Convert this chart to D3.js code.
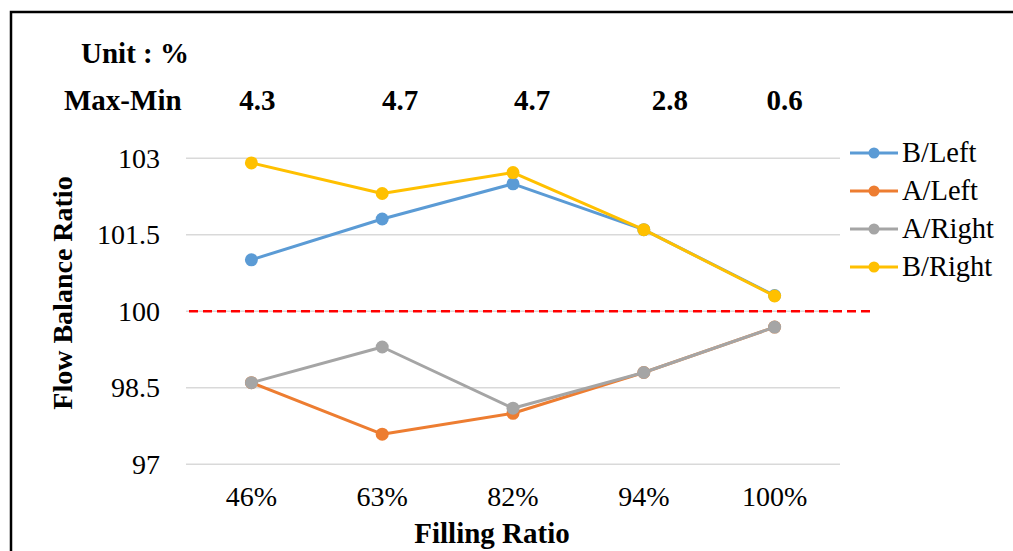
<!DOCTYPE html>
<html>
<head>
<meta charset="utf-8">
<script src="https://cdn.jsdelivr.net/npm/d3@7"></script>
<style>
  body { margin: 0; background: #fff; }
  svg text { font-family: "Liberation Serif", "Times New Roman", Times, "DejaVu Serif", serif; }
</style>
</head>
<body>
<svg width="1013" height="551"></svg>
<script>
// categories and values
var fillRatios = ["46%", "63%", "82%", "94%", "100%"];
var bLeft  = [101.01, 101.81, 102.50, 101.60, 100.31];
var aLeft  = [98.60, 97.59, 98.00, 98.80, 99.69];
var aRight = [98.60, 99.30, 98.10, 98.80, 99.69];
var bRight = [102.91, 102.31, 102.72, 101.60, 100.30];
var maxMin = ["4.3", "4.7", "4.7", "2.8", "0.6"];
var yTicks = [97, 98.5, 100, 101.5, 103];
var refLine = 100;

var series = [
  {name: "B/Left",  values: bLeft,  color: "#5B9BD5"},
  {name: "A/Left",  values: aLeft,  color: "#ED7D31"},
  {name: "A/Right", values: aRight, color: "#A5A5A5"},
  {name: "B/Right", values: bRight, color: "#FFC000"}
];

var svg = d3.select("svg");

// outer frame (right/bottom edges are cropped off in the original)
svg.append("rect")
  .attr("x", 11).attr("y", 12)
  .attr("width", 1040).attr("height", 600)
  .attr("fill", "#fff").attr("stroke", "#000").attr("stroke-width", 2.5);

var xScale = d3.scaleBand().domain(fillRatios).range([186, 840]);
var yScale = d3.scaleLinear().domain([97, 103]).range([464.3, 158.3]);
var cx = function(c) { return xScale(c) + xScale.bandwidth() / 2; };

// gridlines
svg.append("g").selectAll("line")
  .data(yTicks).enter().append("line")
  .attr("x1", 186).attr("x2", 840)
  .attr("y1", d => yScale(d)).attr("y2", d => yScale(d))
  .attr("stroke", "#D9D9D9").attr("stroke-width", 1.5);

// y tick labels
var yAxis = svg.append("g")
  .attr("transform", "translate(186,0)")
  .call(d3.axisLeft(yScale).tickValues(yTicks).tickSize(0).tickPadding(26).tickFormat(d3.format("")));
yAxis.attr("font-family", null);
yAxis.select(".domain").remove();
yAxis.selectAll("text")
  .attr("font-size", 28).attr("fill", "#000")
  .attr("dy", "0.32em");

// x tick labels
var xAxis = svg.append("g")
  .attr("transform", "translate(0,464.3)")
  .call(d3.axisBottom(xScale).tickSize(0).tickPadding(22));
xAxis.attr("font-family", null);
xAxis.select(".domain").remove();
xAxis.selectAll("text")
  .attr("font-size", 28).attr("fill", "#000");

// red reference line at 100
svg.append("line")
  .attr("x1", 189).attr("x2", 873)
  .attr("y1", yScale(refLine)).attr("y2", yScale(refLine))
  .attr("stroke", "#FF0000").attr("stroke-width", 2.5)
  .attr("stroke-dasharray", "9,5");

// series lines + markers
var line = d3.line().x((d, i) => cx(fillRatios[i])).y(d => yScale(d));
series.forEach(function(s) {
  svg.append("path")
    .attr("d", line(s.values))
    .attr("fill", "none").attr("stroke", s.color).attr("stroke-width", 3)
    .attr("stroke-linejoin", "round");
  svg.append("g").selectAll("circle")
    .data(s.values).enter().append("circle")
    .attr("cx", (d, i) => cx(fillRatios[i]))
    .attr("cy", d => yScale(d))
    .attr("r", 6.5)
    .attr("fill", s.color);
});

// header texts
svg.append("text").attr("x", 81).attr("y", 63)
  .attr("font-size", 29).attr("font-weight", "bold").text("Unit : %");
svg.append("text").attr("x", 64).attr("y", 110)
  .attr("font-size", 29).attr("font-weight", "bold").text("Max-Min");
var nudge = [6, 18, 19, 26, 10];
svg.append("g").selectAll("text")
  .data(maxMin).enter().append("text")
  .attr("x", (d, i) => cx(fillRatios[i]) + nudge[i])
  .attr("y", 110)
  .attr("text-anchor", "middle")
  .attr("font-size", 29).attr("font-weight", "bold")
  .text(d => d);

// axis titles
svg.append("text")
  .attr("transform", "translate(72,293) rotate(-90)")
  .attr("text-anchor", "middle")
  .attr("font-size", 28).attr("font-weight", "bold")
  .text("Flow Balance Ratio");
svg.append("text")
  .attr("x", 492).attr("y", 543)
  .attr("text-anchor", "middle")
  .attr("font-size", 29).attr("font-weight", "bold")
  .text("Filling Ratio");

// legend
var legend = svg.append("g").selectAll("g")
  .data(series).enter().append("g")
  .attr("transform", (d, i) => "translate(850," + (153 + i * 38) + ")");
legend.append("line")
  .attr("x1", 0).attr("x2", 48)
  .attr("stroke", d => d.color).attr("stroke-width", 3);
legend.append("circle")
  .attr("cx", 24).attr("r", 5.5).attr("fill", d => d.color);
legend.append("text")
  .attr("x", 52).attr("y", 9)
  .attr("font-size", 28.5)
  .text(d => d.name);
</script>
</body>
</html>
